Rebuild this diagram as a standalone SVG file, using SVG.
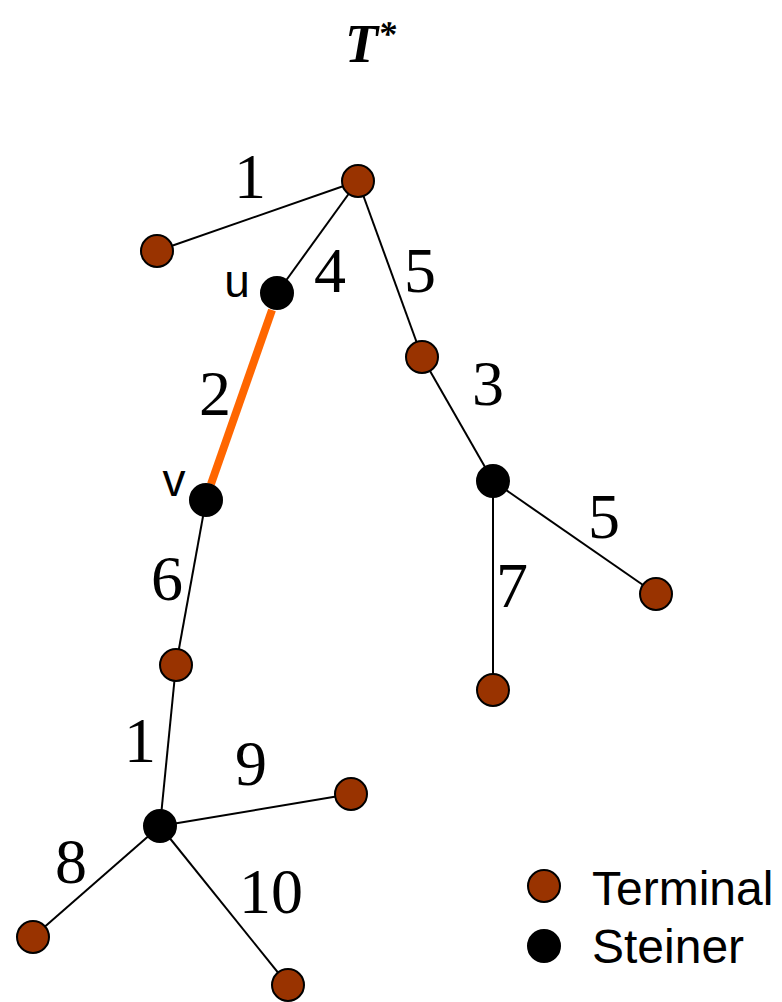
<svg xmlns="http://www.w3.org/2000/svg" width="782" height="1002" viewBox="0 0 782 1002">
<style>
.e{stroke:#000;stroke-width:2;fill:none}
.hl{stroke:#ff6600;stroke-width:8;fill:none}
.t{fill:#993300;stroke:#000;stroke-width:2}
.s{fill:#000;stroke:#000;stroke-width:2}
.w{font-family:"Liberation Serif",serif;font-size:64px;fill:#000;text-anchor:middle}
.n{font-family:"Liberation Sans",sans-serif;font-size:46px;fill:#000;text-anchor:middle}
.lg{font-family:"Liberation Sans",sans-serif;font-size:48px;fill:#000}
</style>
<rect width="782" height="1002" fill="#fff"/>
<text x="345" y="62" font-family="Liberation Serif,serif" font-size="54" font-weight="bold" font-style="italic">T<tspan font-size="36" dy="-16">*</tspan></text>
<g id="connectors">
<line class="e" x1="358" y1="181" x2="157" y2="251"/>
<line class="e" x1="358" y1="181" x2="277" y2="293"/>
<line class="e" x1="358" y1="181" x2="422" y2="357"/>
<line class="hl" x1="272" y1="310" x2="211" y2="484"/>
<line class="e" x1="422" y1="357" x2="493" y2="481"/>
<line class="e" x1="493" y1="481" x2="656" y2="594"/>
<line class="e" x1="493" y1="481" x2="493" y2="690"/>
<line class="e" x1="206" y1="500" x2="176" y2="665"/>
<line class="e" x1="176" y1="665" x2="160" y2="826"/>
<line class="e" x1="160" y1="826" x2="351" y2="794"/>
<line class="e" x1="160" y1="826" x2="33" y2="937"/>
<line class="e" x1="160" y1="826" x2="288" y2="985"/>
</g>
<g id="labels">
<text class="w" x="250" y="198">1</text>
<text class="w" x="330" y="292">4</text>
<text class="w" x="420" y="292">5</text>
<text class="w" x="215" y="415">2</text>
<text class="w" x="488" y="405">3</text>
<text class="w" x="604" y="538">5</text>
<text class="w" x="512" y="607">7</text>
<text class="w" x="167" y="600">6</text>
<text class="w" x="140" y="762">1</text>
<text class="w" x="251" y="785">9</text>
<text class="w" x="71" y="883">8</text>
<text class="w" x="271" y="913">10</text>
</g>
<g id="nA"><circle class="t" cx="358" cy="181" r="16"/></g>
<g id="nB"><circle class="t" cx="157" cy="251" r="16"/></g>
<g id="nU"><circle class="s" cx="277" cy="293" r="16"/><text class="n" x="237" y="297">u</text></g>
<g id="nC"><circle class="t" cx="422" cy="357" r="16"/></g>
<g id="nV"><circle class="s" cx="206" cy="500" r="16"/><text class="n" x="174" y="496">v</text></g>
<g id="nD"><circle class="s" cx="493" cy="481" r="16"/></g>
<g id="nE"><circle class="t" cx="656" cy="594" r="16"/></g>
<g id="nF"><circle class="t" cx="493" cy="690" r="16"/></g>
<g id="nG"><circle class="t" cx="176" cy="665" r="16"/></g>
<g id="nH"><circle class="s" cx="160" cy="826" r="16"/></g>
<g id="nI"><circle class="t" cx="351" cy="794" r="16"/></g>
<g id="nJ"><circle class="t" cx="33" cy="937" r="16"/></g>
<g id="nK"><circle class="t" cx="288" cy="985" r="16"/></g>
<g id="legend">
<circle class="t" cx="544" cy="886" r="16"/>
<text class="lg" x="592" y="905">Terminal</text>
<circle class="s" cx="544" cy="946" r="16"/>
<text class="lg" x="592" y="963">Steiner</text>
</g>
</svg>
